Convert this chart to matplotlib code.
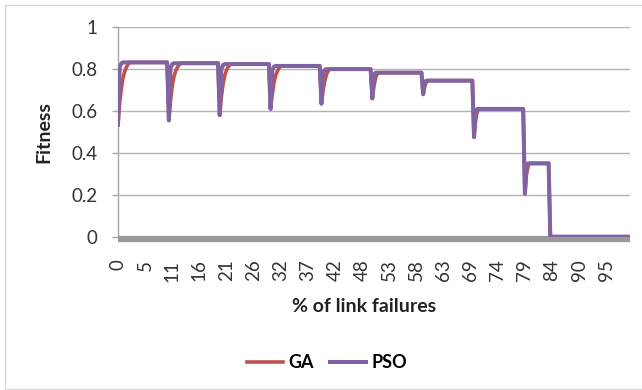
import matplotlib.pyplot as plt
from matplotlib.patches import Rectangle

# iteration at which each link failure hits the network (last entry: network lost)
failure_at = [0, 30, 60, 90, 120, 150, 180, 210, 240, 255]
last_iter = 302

# fitness per iteration after each failure, until the search settles
ga_runs = [
    [0.535, 0.64, 0.71, 0.76, 0.79, 0.81, 0.824, 0.832],
    [0.555, 0.65, 0.72, 0.765, 0.79, 0.808, 0.82, 0.828],
    [0.58, 0.67, 0.73, 0.77, 0.795, 0.81, 0.82, 0.824],
    [0.61, 0.68, 0.735, 0.77, 0.79, 0.805, 0.815],
    [0.635, 0.70, 0.745, 0.775, 0.792, 0.800],
    [0.66, 0.72, 0.76, 0.778, 0.783],
    [0.68, 0.72, 0.74, 0.745],
    [0.475, 0.56, 0.60, 0.61],
    [0.205, 0.30, 0.34, 0.35],
]
pso_runs = [
    [0.535, 0.81, 0.828, 0.832],
    [0.555, 0.805, 0.824, 0.828],
    [0.58, 0.80, 0.82, 0.824],
    [0.61, 0.795, 0.812, 0.815],
    [0.635, 0.785, 0.797, 0.800],
    [0.66, 0.775, 0.783],
    [0.68, 0.74, 0.745],
    [0.475, 0.60, 0.61],
    [0.205, 0.34, 0.35],
]

pct_labels = ['0', '5', '11', '16', '21', '26', '32', '37', '42', '48',
              '53', '58', '63', '69', '74', '79', '84', '90', '95']
label_step = 16


def build(runs):
    xs, ys = [], []
    for k, run in enumerate(runs):
        start, stop = failure_at[k], failure_at[k + 1]
        for i, v in enumerate(run):
            xs.append(start + i)
            ys.append(v)
        # hold the settled value until the next failure
        xs.append(stop - 1)
        ys.append(run[-1])
    xs += [failure_at[-1], last_iter]
    ys += [0, 0]
    return xs, ys


plt.rcParams['font.family'] = ['Lato', 'DejaVu Sans']

fig = plt.figure(figsize=(6.42, 3.9), dpi=100)
ax = fig.add_axes([118 / 642, 1 - 236.7 / 390, 512 / 642, 209.5 / 390])

ga_x, ga_y = build(ga_runs)
pso_x, pso_y = build(pso_runs)
ax.plot(ga_x, ga_y, color='#c0504d', lw=2.6, label='GA', zorder=3)
ax.plot(pso_x, pso_y, color='#8064a2', lw=2.9, label='PSO', zorder=4)

ax.set_xlim(0, last_iter)
ax.set_ylim(0, 1)
ax.set_yticks([0, 0.2, 0.4, 0.6, 0.8, 1])
ax.set_yticklabels(['0', '0.2', '0.4', '0.6', '0.8', '1'])
ax.set_xticks(range(0, label_step * len(pct_labels), label_step))
ax.set_xticklabels(pct_labels)
ax.tick_params(axis='x', length=0, pad=15, labelsize=13.5, labelcolor='#333333',
               labelrotation=90)
ax.tick_params(axis='y', length=4.5, width=1, color='#a6a6a6', pad=10,
               labelsize=13.5, labelcolor='#333333')
for lab in ax.get_xticklabels():
    lab.set_va('top')
ax.grid(axis='y', color='#b3b3b3', lw=1)
ax.set_axisbelow(True)

for side in ['top', 'right']:
    ax.spines[side].set_visible(False)
ax.spines['left'].set_color('#a6a6a6')
ax.spines['left'].set_linewidth(1)
ax.spines['bottom'].set_color('#999999')
ax.spines['bottom'].set_linewidth(4.5)
ax.spines['bottom'].set_position(('outward', 1.5))
ax.spines['bottom'].set_capstyle('butt')

fig.text(44 / 642, 1 - 132 / 390, 'Fitness', rotation=90, ha='center',
         va='center', fontsize=14, fontweight='bold', color='#222222')
fig.text(364 / 642, 1 - 306 / 390, '% of link failures', ha='center',
         va='center', fontsize=14, fontweight='bold', color='#222222')

fig.legend(loc='center', bbox_to_anchor=(327 / 642, 1 - 363 / 390), ncol=2,
           frameon=False, prop={'weight': 'bold', 'size': 13},
           handlelength=2.0, handletextpad=0.3, columnspacing=0.9)

# chart area border
fig.patches.append(Rectangle((5 / 642, 1 / 390), 1.0, 384 / 390,
                             transform=fig.transFigure, fill=False,
                             edgecolor='#d9d9d9', lw=1))

fig.savefig('out.png', dpi=100)
